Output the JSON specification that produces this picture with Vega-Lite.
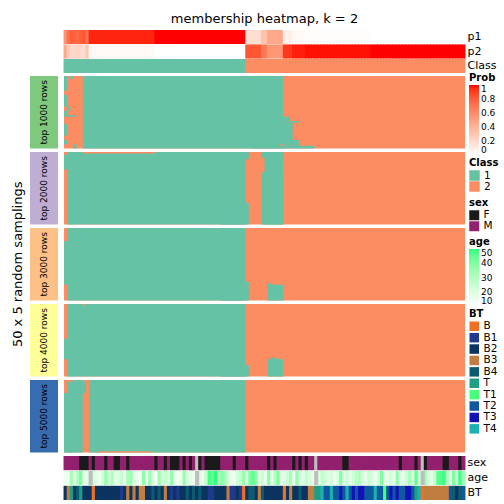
{
  "$schema": "https://vega.github.io/schema/vega-lite/v6.json",
  "autosize": {"type": "pad"},
  "padding": {"left": 0, "top": 12, "right": 0, "bottom": 0},
  "config": {
    "view": {"stroke": null},
    "font": "DejaVu Sans",
    "legend": {"labelColor": "black", "titleColor": "black", "padding": 0, "labelFontSize": 10.5, "titleFontSize": 10, "titleFontWeight": "bold", "titlePadding": 2, "labelOffset": 4}
  },
  "datasets": {
    "samples": [
      {"i":0,"p1":0.55,"p2":0.45,"cls":"1","sex":"M","age":15,"bt":"B2"},
      {"i":1,"p1":0.72,"p2":0.28,"cls":"1","sex":"M","age":14,"bt":"B3"},
      {"i":2,"p1":0.8,"p2":0.2,"cls":"1","sex":"M","age":33,"bt":"T"},
      {"i":3,"p1":0.78,"p2":0.22,"cls":"1","sex":"M","age":18,"bt":"B2"},
      {"i":4,"p1":0.76,"p2":0.24,"cls":"1","sex":"M","age":31,"bt":"B4"},
      {"i":5,"p1":0.8,"p2":0.2,"cls":"1","sex":"F","age":40,"bt":"T"},
      {"i":6,"p1":0.82,"p2":0.18,"cls":"1","sex":"F","age":16,"bt":"B2"},
      {"i":7,"p1":0.7,"p2":0.3,"cls":"1","sex":"F","age":18,"bt":"B2"},
      {"i":8,"p1":0.96,"p2":0.04,"cls":"1","sex":"M","age":null,"bt":"B2"},
      {"i":9,"p1":0.96,"p2":0.04,"cls":"1","sex":"F","age":22,"bt":"B"},
      {"i":10,"p1":0.96,"p2":0.04,"cls":"1","sex":"M","age":19,"bt":"B2"},
      {"i":11,"p1":0.96,"p2":0.04,"cls":"1","sex":"M","age":14,"bt":"B2"},
      {"i":12,"p1":0.96,"p2":0.04,"cls":"1","sex":"M","age":23,"bt":"B2"},
      {"i":13,"p1":0.96,"p2":0.04,"cls":"1","sex":"F","age":36,"bt":"B2"},
      {"i":14,"p1":0.96,"p2":0.04,"cls":"1","sex":"M","age":21,"bt":"B2"},
      {"i":15,"p1":0.96,"p2":0.04,"cls":"1","sex":"M","age":30,"bt":"B2"},
      {"i":16,"p1":0.96,"p2":0.04,"cls":"1","sex":"F","age":19,"bt":"B2"},
      {"i":17,"p1":0.96,"p2":0.04,"cls":"1","sex":"F","age":18,"bt":"B2"},
      {"i":18,"p1":0.96,"p2":0.04,"cls":"1","sex":"M","age":25,"bt":"B1"},
      {"i":19,"p1":0.96,"p2":0.04,"cls":"1","sex":"M","age":14,"bt":"B2"},
      {"i":20,"p1":0.96,"p2":0.04,"cls":"1","sex":"F","age":33,"bt":"B3"},
      {"i":21,"p1":0.96,"p2":0.04,"cls":"1","sex":"M","age":35,"bt":"B2"},
      {"i":22,"p1":0.96,"p2":0.04,"cls":"1","sex":"M","age":19,"bt":"B3"},
      {"i":23,"p1":0.96,"p2":0.04,"cls":"1","sex":"M","age":17,"bt":"B2"},
      {"i":24,"p1":0.96,"p2":0.04,"cls":"1","sex":"M","age":13,"bt":"B3"},
      {"i":25,"p1":0.96,"p2":0.04,"cls":"1","sex":"M","age":38,"bt":"B3"},
      {"i":26,"p1":0.96,"p2":0.04,"cls":"1","sex":"M","age":15,"bt":"B2"},
      {"i":27,"p1":0.96,"p2":0.04,"cls":"1","sex":"M","age":35,"bt":"B2"},
      {"i":28,"p1":0.96,"p2":0.04,"cls":"1","sex":"M","age":20,"bt":"B4"},
      {"i":29,"p1":1,"p2":0,"cls":"1","sex":"F","age":12,"bt":"B2"},
      {"i":30,"p1":1,"p2":0,"cls":"1","sex":"M","age":35,"bt":"B4"},
      {"i":31,"p1":1,"p2":0,"cls":"1","sex":"M","age":22,"bt":"B2"},
      {"i":32,"p1":1,"p2":0,"cls":"1","sex":"F","age":26,"bt":"B3"},
      {"i":33,"p1":1,"p2":0,"cls":"1","sex":"M","age":19,"bt":"B2"},
      {"i":34,"p1":1,"p2":0,"cls":"1","sex":"F","age":37,"bt":"B1"},
      {"i":35,"p1":1,"p2":0,"cls":"1","sex":"F","age":16,"bt":"B2"},
      {"i":36,"p1":1,"p2":0,"cls":"1","sex":"F","age":14,"bt":"B1"},
      {"i":37,"p1":1,"p2":0,"cls":"1","sex":"M","age":17,"bt":"B2"},
      {"i":38,"p1":1,"p2":0,"cls":"1","sex":"F","age":36,"bt":"B2"},
      {"i":39,"p1":1,"p2":0,"cls":"1","sex":"M","age":20,"bt":"B4"},
      {"i":40,"p1":1,"p2":0,"cls":"1","sex":"F","age":18,"bt":"B2"},
      {"i":41,"p1":1,"p2":0,"cls":"1","sex":"M","age":15,"bt":"B4"},
      {"i":42,"p1":1,"p2":0,"cls":"1","sex":"NA","age":null,"bt":"B2"},
      {"i":43,"p1":1,"p2":0,"cls":"1","sex":"F","age":20,"bt":"B4"},
      {"i":44,"p1":1,"p2":0,"cls":"1","sex":"M","age":14,"bt":"B2"},
      {"i":45,"p1":1,"p2":0,"cls":"1","sex":"F","age":27,"bt":"B2"},
      {"i":46,"p1":1,"p2":0,"cls":"1","sex":"F","age":48,"bt":"B1"},
      {"i":47,"p1":1,"p2":0,"cls":"1","sex":"F","age":45,"bt":"B1"},
      {"i":48,"p1":1,"p2":0,"cls":"1","sex":"F","age":50,"bt":"B2"},
      {"i":49,"p1":1,"p2":0,"cls":"1","sex":"F","age":30,"bt":"B2"},
      {"i":50,"p1":1,"p2":0,"cls":"1","sex":"M","age":38,"bt":"B2"},
      {"i":51,"p1":1,"p2":0,"cls":"1","sex":"M","age":33,"bt":"B2"},
      {"i":52,"p1":1,"p2":0,"cls":"1","sex":"M","age":22,"bt":"B3"},
      {"i":53,"p1":1,"p2":0,"cls":"1","sex":"M","age":17,"bt":"B1"},
      {"i":54,"p1":1,"p2":0,"cls":"1","sex":"F","age":14,"bt":"B1"},
      {"i":55,"p1":1,"p2":0,"cls":"1","sex":"M","age":23,"bt":"B2"},
      {"i":56,"p1":1,"p2":0,"cls":"1","sex":"M","age":26,"bt":"B1"},
      {"i":57,"p1":1,"p2":0,"cls":"1","sex":"M","age":36,"bt":"B"},
      {"i":58,"p1":0.18,"p2":0.82,"cls":"2","sex":"F","age":20,"bt":"B2"},
      {"i":59,"p1":0.18,"p2":0.82,"cls":"2","sex":"M","age":41,"bt":"B4"},
      {"i":60,"p1":0.18,"p2":0.82,"cls":"2","sex":"M","age":45,"bt":"B4"},
      {"i":61,"p1":0.18,"p2":0.82,"cls":"2","sex":"M","age":37,"bt":"B2"},
      {"i":62,"p1":0.18,"p2":0.82,"cls":"2","sex":"M","age":18,"bt":"B3"},
      {"i":63,"p1":0.32,"p2":0.68,"cls":"2","sex":"M","age":24,"bt":"B4"},
      {"i":64,"p1":0.32,"p2":0.68,"cls":"2","sex":"M","age":16,"bt":"B2"},
      {"i":65,"p1":0.46,"p2":0.54,"cls":"2","sex":"F","age":38,"bt":"B2"},
      {"i":66,"p1":0.46,"p2":0.54,"cls":"2","sex":"M","age":15,"bt":"B2"},
      {"i":67,"p1":0.46,"p2":0.54,"cls":"2","sex":"F","age":29,"bt":"B2"},
      {"i":68,"p1":0.46,"p2":0.54,"cls":"2","sex":"M","age":41,"bt":"B2"},
      {"i":69,"p1":0.46,"p2":0.54,"cls":"2","sex":"M","age":17,"bt":"B2"},
      {"i":70,"p1":0.08,"p2":0.92,"cls":"2","sex":"M","age":19,"bt":"B"},
      {"i":71,"p1":0.08,"p2":0.92,"cls":"2","sex":"M","age":24,"bt":"B2"},
      {"i":72,"p1":0.08,"p2":0.92,"cls":"2","sex":"M","age":33,"bt":"B3"},
      {"i":73,"p1":0.03,"p2":0.97,"cls":"2","sex":"F","age":14,"bt":"B2"},
      {"i":74,"p1":0.03,"p2":0.97,"cls":"2","sex":"M","age":37,"bt":"B2"},
      {"i":75,"p1":0.03,"p2":0.97,"cls":"2","sex":"F","age":22,"bt":"B4"},
      {"i":76,"p1":0.03,"p2":0.97,"cls":"2","sex":"M","age":18,"bt":"B2"},
      {"i":77,"p1":0.012,"p2":0.988,"cls":"2","sex":"F","age":26,"bt":"B2"},
      {"i":78,"p1":0.012,"p2":0.988,"cls":"2","sex":"M","age":20,"bt":"B3"},
      {"i":79,"p1":0.012,"p2":0.988,"cls":"2","sex":"M","age":17,"bt":"B3"},
      {"i":80,"p1":0.012,"p2":0.988,"cls":"2","sex":"NA","age":null,"bt":"T"},
      {"i":81,"p1":0.012,"p2":0.988,"cls":"2","sex":"M","age":19,"bt":"T"},
      {"i":82,"p1":0.012,"p2":0.988,"cls":"2","sex":"M","age":27,"bt":"T4"},
      {"i":83,"p1":0.012,"p2":0.988,"cls":"2","sex":"M","age":24,"bt":"T2"},
      {"i":84,"p1":0.012,"p2":0.988,"cls":"2","sex":"M","age":16,"bt":"T2"},
      {"i":85,"p1":0.012,"p2":0.988,"cls":"2","sex":"M","age":22,"bt":"T4"},
      {"i":86,"p1":0.012,"p2":0.988,"cls":"2","sex":"M","age":15,"bt":"T2"},
      {"i":87,"p1":0.012,"p2":0.988,"cls":"2","sex":"M","age":21,"bt":"T2"},
      {"i":88,"p1":0.012,"p2":0.988,"cls":"2","sex":"M","age":39,"bt":"T3"},
      {"i":89,"p1":0.012,"p2":0.988,"cls":"2","sex":"F","age":18,"bt":"T2"},
      {"i":90,"p1":0.012,"p2":0.988,"cls":"2","sex":"F","age":24,"bt":"T4"},
      {"i":91,"p1":0.012,"p2":0.988,"cls":"2","sex":"M","age":16,"bt":"T2"},
      {"i":92,"p1":0.012,"p2":0.988,"cls":"2","sex":"M","age":23,"bt":"T3"},
      {"i":93,"p1":0.012,"p2":0.988,"cls":"2","sex":"M","age":28,"bt":"T2"},
      {"i":94,"p1":0.012,"p2":0.988,"cls":"2","sex":"M","age":31,"bt":"T3"},
      {"i":95,"p1":0.012,"p2":0.988,"cls":"2","sex":"M","age":19,"bt":"T3"},
      {"i":96,"p1":0.012,"p2":0.988,"cls":"2","sex":"M","age":17,"bt":"T2"},
      {"i":97,"p1":0.012,"p2":0.988,"cls":"2","sex":"M","age":25,"bt":"T2"},
      {"i":98,"p1":0,"p2":1,"cls":"2","sex":"M","age":21,"bt":"T2"},
      {"i":99,"p1":0,"p2":1,"cls":"2","sex":"M","age":14,"bt":"T4"},
      {"i":100,"p1":0,"p2":1,"cls":"2","sex":"M","age":22,"bt":"T2"},
      {"i":101,"p1":0,"p2":1,"cls":"2","sex":"M","age":40,"bt":"T2"},
      {"i":102,"p1":0,"p2":1,"cls":"2","sex":"M","age":16,"bt":"T1"},
      {"i":103,"p1":0,"p2":1,"cls":"2","sex":"M","age":18,"bt":"T2"},
      {"i":104,"p1":0,"p2":1,"cls":"2","sex":"M","age":23,"bt":"T3"},
      {"i":105,"p1":0,"p2":1,"cls":"2","sex":"M","age":15,"bt":"T2"},
      {"i":106,"p1":0,"p2":1,"cls":"2","sex":"M","age":37,"bt":"T3"},
      {"i":107,"p1":0,"p2":1,"cls":"2","sex":"F","age":19,"bt":"T2"},
      {"i":108,"p1":0,"p2":1,"cls":"2","sex":"M","age":17,"bt":"T2"},
      {"i":109,"p1":0,"p2":1,"cls":"2","sex":"M","age":24,"bt":"T3"},
      {"i":110,"p1":0,"p2":1,"cls":"2","sex":"M","age":33,"bt":"T3"},
      {"i":111,"p1":0,"p2":1,"cls":"2","sex":"M","age":20,"bt":"T2"},
      {"i":112,"p1":0,"p2":1,"cls":"2","sex":"F","age":45,"bt":"T"},
      {"i":113,"p1":0,"p2":1,"cls":"2","sex":"M","age":23,"bt":"T4"},
      {"i":114,"p1":0,"p2":1,"cls":"2","sex":"NA","age":null,"bt":"B"},
      {"i":115,"p1":0,"p2":1,"cls":"2","sex":"F","age":33,"bt":"B3"},
      {"i":116,"p1":0,"p2":1,"cls":"2","sex":"M","age":21,"bt":"B3"},
      {"i":117,"p1":0,"p2":1,"cls":"2","sex":"M","age":18,"bt":"B3"},
      {"i":118,"p1":0,"p2":1,"cls":"2","sex":"M","age":26,"bt":"B3"},
      {"i":119,"p1":0,"p2":1,"cls":"2","sex":"M","age":46,"bt":"B3"},
      {"i":120,"p1":0,"p2":1,"cls":"2","sex":"M","age":47,"bt":"B3"},
      {"i":121,"p1":0,"p2":1,"cls":"2","sex":"F","age":49,"bt":"B3"},
      {"i":122,"p1":0,"p2":1,"cls":"2","sex":"F","age":30,"bt":"B3"},
      {"i":123,"p1":0,"p2":1,"cls":"2","sex":"M","age":18,"bt":"T2"},
      {"i":124,"p1":0,"p2":1,"cls":"2","sex":"M","age":41,"bt":"B4"},
      {"i":125,"p1":0,"p2":1,"cls":"2","sex":"M","age":22,"bt":"B2"},
      {"i":126,"p1":0,"p2":1,"cls":"2","sex":"F","age":49,"bt":"B4"},
      {"i":127,"p1":0,"p2":1,"cls":"2","sex":"M","age":35,"bt":"T2"}
    ],
    "seg": [
      {"p":"top 1000 rows","s0":0,"s1":128,"r0":0,"r1":50,"c":"2"},
      {"p":"top 1000 rows","s0":6,"s1":70,"r0":0,"r1":50,"c":"1"},
      {"p":"top 1000 rows","s0":60,"s1":72,"r0":28,"r1":31,"c":"1"},
      {"p":"top 1000 rows","s0":60,"s1":75,"r0":31,"r1":32,"c":"1"},
      {"p":"top 1000 rows","s0":60,"s1":73,"r0":32,"r1":44,"c":"1"},
      {"p":"top 1000 rows","s0":60,"s1":75,"r0":44,"r1":48,"c":"1"},
      {"p":"top 1000 rows","s0":60,"s1":80,"r0":48,"r1":50,"c":"1"},
      {"p":"top 1000 rows","s0":69,"s1":70,"r0":47,"r1":48,"c":"2"},
      {"p":"top 1000 rows","s0":0,"s1":1,"r0":0,"r1":10,"c":"1"},
      {"p":"top 1000 rows","s0":0,"s1":1,"r0":13,"r1":21,"c":"1"},
      {"p":"top 1000 rows","s0":0,"s1":1,"r0":24,"r1":28,"c":"1"},
      {"p":"top 1000 rows","s0":0,"s1":1,"r0":33,"r1":41,"c":"1"},
      {"p":"top 1000 rows","s0":0,"s1":1,"r0":44,"r1":47,"c":"1"},
      {"p":"top 1000 rows","s0":1,"s1":2,"r0":21,"r1":24,"c":"1"},
      {"p":"top 1000 rows","s0":1,"s1":4,"r0":27,"r1":28,"c":"1"},
      {"p":"top 1000 rows","s0":2,"s1":3,"r0":0,"r1":2,"c":"1"},
      {"p":"top 1000 rows","s0":3,"s1":4,"r0":47,"r1":50,"c":"1"},
      {"p":"top 2000 rows","s0":0,"s1":128,"r0":0,"r1":50,"c":"2"},
      {"p":"top 2000 rows","s0":1,"s1":58,"r0":0,"r1":50,"c":"1"},
      {"p":"top 2000 rows","s0":64,"s1":70,"r0":0,"r1":50,"c":"1"},
      {"p":"top 2000 rows","s0":63,"s1":70,"r0":0,"r1":4,"c":"1"},
      {"p":"top 2000 rows","s0":63,"s1":70,"r0":14,"r1":50,"c":"1"},
      {"p":"top 2000 rows","s0":0,"s1":5,"r0":2,"r1":12,"c":"1"},
      {"p":"top 2000 rows","s0":50,"s1":59,"r0":0,"r1":5,"c":"1"},
      {"p":"top 2000 rows","s0":50,"s1":59,"r0":35,"r1":50,"c":"1"},
      {"p":"top 2000 rows","s0":6,"s1":29,"r0":0,"r1":1,"c":"2"},
      {"p":"top 3000 rows","s0":0,"s1":128,"r0":0,"r1":50,"c":"2"},
      {"p":"top 3000 rows","s0":1,"s1":58,"r0":0,"r1":50,"c":"1"},
      {"p":"top 3000 rows","s0":0,"s1":5,"r0":9,"r1":39,"c":"1"},
      {"p":"top 3000 rows","s0":50,"s1":59,"r0":37,"r1":50,"c":"1"},
      {"p":"top 3000 rows","s0":65,"s1":70,"r0":39,"r1":50,"c":"1"},
      {"p":"top 3000 rows","s0":65,"s1":66,"r0":38,"r1":40,"c":"1"},
      {"p":"top 4000 rows","s0":0,"s1":128,"r0":0,"r1":50,"c":"2"},
      {"p":"top 4000 rows","s0":1,"s1":58,"r0":0,"r1":50,"c":"1"},
      {"p":"top 4000 rows","s0":6,"s1":7,"r0":0,"r1":1,"c":"2"},
      {"p":"top 4000 rows","s0":0,"s1":5,"r0":24,"r1":38,"c":"1"},
      {"p":"top 4000 rows","s0":50,"s1":59,"r0":42,"r1":50,"c":"1"},
      {"p":"top 4000 rows","s0":65,"s1":70,"r0":38,"r1":50,"c":"1"},
      {"p":"top 4000 rows","s0":66,"s1":68,"r0":37,"r1":39,"c":"1"},
      {"p":"top 5000 rows","s0":0,"s1":128,"r0":0,"r1":50,"c":"2"},
      {"p":"top 5000 rows","s0":1,"s1":6,"r0":0,"r1":50,"c":"1"},
      {"p":"top 5000 rows","s0":8,"s1":58,"r0":0,"r1":50,"c":"1"},
      {"p":"top 5000 rows","s0":3,"s1":7,"r0":1,"r1":9,"c":"1"},
      {"p":"top 5000 rows","s0":0,"s1":3,"r0":9,"r1":50,"c":"1"},
      {"p":"top 5000 rows","s0":11,"s1":28,"r0":49,"r1":50,"c":"2"},
      {"p":"top 5000 rows","s0":1,"s1":3,"r0":0,"r1":1,"c":"2"}
    ],
    "strips": [
      {"p":"top 1000 rows"},
      {"p":"top 2000 rows"},
      {"p":"top 3000 rows"},
      {"p":"top 4000 rows"},
      {"p":"top 5000 rows"}
    ]
  },
  "columns": 3,
  "align": "each",
  "bounds": "flush",
  "spacing": {"row": 3, "column": 6},
  "resolve": {"scale": {"color": "independent"}, "legend": {"color": "independent"}},
  "concat": [
    {"width": 24, "height": 1, "data": {"values": [{}]}, "mark": {"type": "rect", "opacity": 0}},
    {"width": 28, "height": 1, "data": {"values": [{}]}, "mark": {"type": "rect", "opacity": 0}},
    {
      "width": 401, "height": 43,
      "data": {"name": "samples"},
      "title": {"text": "membership heatmap, k = 2", "fontSize": 13, "fontWeight": "normal", "baseline": "alphabetic", "offset": -5.5, "anchor": "middle", "color": "black"},
      "layer": [
        {
          "transform": [{"fold": ["p1", "p2"], "as": ["k", "v"]}],
          "mark": {"type": "rect", "width": {"band": 1.3}},
          "encoding": {
            "x": {"field": "i", "type": "ordinal", "scale": {"paddingInner": 0, "paddingOuter": 0}, "axis": null},
            "y": {"field": "k", "type": "nominal", "scale": {"domain": ["p1", "p2", "Class"], "paddingInner": 0.03, "paddingOuter": 0}, "axis": {"orient": "right", "title": null, "ticks": false, "domain": false, "labelPadding": 2, "labelFontSize": 11, "labelColor": "black"}},
            "color": {"field": "v", "type": "quantitative", "scale": {"domain": [0, 1], "range": ["#FFFFFF", "#FF0000"], "interpolate": "lab"},
              "legend": {"title": "Prob", "orient": "none", "legendX": 405, "legendY": 43, "direction": "vertical", "gradientLength": 70, "gradientThickness": 10, "values": [0, 0.2, 0.4, 0.6, 0.8, 1], "format": "~g", "labelOverlap": false, "labelFontSize": 9, "titlePadding": 2, "gradientStrokeWidth": 0}}
          }
        },
        {
          "mark": {"type": "rect", "width": {"band": 1.3}},
          "encoding": {
            "x": {"field": "i", "type": "ordinal", "scale": {"paddingInner": 0, "paddingOuter": 0}, "axis": null},
            "y": {"datum": "Class", "type": "nominal", "scale": {"domain": ["p1", "p2", "Class"], "paddingInner": 0.03, "paddingOuter": 0}, "axis": {"orient": "right", "title": null, "ticks": false, "domain": false, "labelPadding": 2, "labelFontSize": 11, "labelColor": "black"}},
            "color": {"field": "cls", "type": "nominal", "scale": {"domain": ["1", "2"], "range": ["#66C2A5", "#FC8D62"]},
              "legend": {"title": "Class", "orient": "none", "legendX": 405, "legendY": 128, "symbolType": "square", "symbolSize": 110, "symbolStrokeWidth": 0, "rowPadding": 0}}
          }
        }
      ],
      "resolve": {"scale": {"color": "independent"}, "legend": {"color": "independent"}}
    },
    {"width": 24, "height": 1, "data": {"values": [{}]}, "mark": {"type": "rect", "opacity": 0}},
    {"width": 28, "height": 72.6, "data": {"name": "strips"}, "transform": [{"filter": {"field": "p", "equal": "top 1000 rows"}}],
      "layer": [
        {"mark": {"type": "rect"}, "encoding": {"color": {"field": "p", "type": "nominal", "scale": {"domain": ["top 1000 rows", "top 2000 rows", "top 3000 rows", "top 4000 rows", "top 5000 rows"], "range": ["#7FC97F", "#BEAED4", "#FDC086", "#FFFF99", "#386CB0"]}, "legend": null}}},
        {"mark": {"type": "text", "angle": 270, "fontSize": 9, "color": "black"}, "encoding": {"text": {"field": "p"}}}
      ]},
    {"width": 401, "height": 72.6, "data": {"name": "seg"}, "transform": [{"filter": {"field": "p", "equal": "top 1000 rows"}}],
      "mark": {"type": "rect"},
      "encoding": {
        "x": {"field": "s0", "type": "quantitative", "scale": {"domain": [0, 128], "nice": false, "zero": false}, "axis": null},
        "x2": {"field": "s1"},
        "y": {"field": "r0", "type": "quantitative", "scale": {"domain": [0, 50], "nice": false, "zero": false, "reverse": true}, "axis": null},
        "y2": {"field": "r1"},
        "color": {"field": "c", "type": "nominal", "scale": {"domain": ["1", "2"], "range": ["#66C2A5", "#FC8D62"]}, "legend": null}
      }},
    {"width": 24, "height": 1, "data": {"values": [{}]}, "mark": {"type": "rect", "opacity": 0}},
    {"width": 28, "height": 72.6, "data": {"name": "strips"}, "transform": [{"filter": {"field": "p", "equal": "top 2000 rows"}}],
      "layer": [
        {"mark": {"type": "rect"}, "encoding": {"color": {"field": "p", "type": "nominal", "scale": {"domain": ["top 1000 rows", "top 2000 rows", "top 3000 rows", "top 4000 rows", "top 5000 rows"], "range": ["#7FC97F", "#BEAED4", "#FDC086", "#FFFF99", "#386CB0"]}, "legend": null}}},
        {"mark": {"type": "text", "angle": 270, "fontSize": 9, "color": "black"}, "encoding": {"text": {"field": "p"}}}
      ]},
    {"width": 401, "height": 72.6, "data": {"name": "seg"}, "transform": [{"filter": {"field": "p", "equal": "top 2000 rows"}}],
      "mark": {"type": "rect"},
      "encoding": {
        "x": {"field": "s0", "type": "quantitative", "scale": {"domain": [0, 128], "nice": false, "zero": false}, "axis": null},
        "x2": {"field": "s1"},
        "y": {"field": "r0", "type": "quantitative", "scale": {"domain": [0, 50], "nice": false, "zero": false, "reverse": true}, "axis": null},
        "y2": {"field": "r1"},
        "color": {"field": "c", "type": "nominal", "scale": {"domain": ["1", "2"], "range": ["#66C2A5", "#FC8D62"]}, "legend": null}
      }},
    {"width": 24, "height": 72.6, "data": {"values": [{"t": "50 x 5 random samplings"}]},
      "mark": {"type": "text", "angle": 270, "fontSize": 13, "baseline": "top", "align": "center", "color": "black"},
      "encoding": {"text": {"field": "t"}}},
    {"width": 28, "height": 72.6, "data": {"name": "strips"}, "transform": [{"filter": {"field": "p", "equal": "top 3000 rows"}}],
      "layer": [
        {"mark": {"type": "rect"}, "encoding": {"color": {"field": "p", "type": "nominal", "scale": {"domain": ["top 1000 rows", "top 2000 rows", "top 3000 rows", "top 4000 rows", "top 5000 rows"], "range": ["#7FC97F", "#BEAED4", "#FDC086", "#FFFF99", "#386CB0"]}, "legend": null}}},
        {"mark": {"type": "text", "angle": 270, "fontSize": 9, "color": "black"}, "encoding": {"text": {"field": "p"}}}
      ]},
    {"width": 401, "height": 72.6, "data": {"name": "seg"}, "transform": [{"filter": {"field": "p", "equal": "top 3000 rows"}}],
      "mark": {"type": "rect"},
      "encoding": {
        "x": {"field": "s0", "type": "quantitative", "scale": {"domain": [0, 128], "nice": false, "zero": false}, "axis": null},
        "x2": {"field": "s1"},
        "y": {"field": "r0", "type": "quantitative", "scale": {"domain": [0, 50], "nice": false, "zero": false, "reverse": true}, "axis": null},
        "y2": {"field": "r1"},
        "color": {"field": "c", "type": "nominal", "scale": {"domain": ["1", "2"], "range": ["#66C2A5", "#FC8D62"]}, "legend": null}
      }},
    {"width": 24, "height": 1, "data": {"values": [{}]}, "mark": {"type": "rect", "opacity": 0}},
    {"width": 28, "height": 72.6, "data": {"name": "strips"}, "transform": [{"filter": {"field": "p", "equal": "top 4000 rows"}}],
      "layer": [
        {"mark": {"type": "rect"}, "encoding": {"color": {"field": "p", "type": "nominal", "scale": {"domain": ["top 1000 rows", "top 2000 rows", "top 3000 rows", "top 4000 rows", "top 5000 rows"], "range": ["#7FC97F", "#BEAED4", "#FDC086", "#FFFF99", "#386CB0"]}, "legend": null}}},
        {"mark": {"type": "text", "angle": 270, "fontSize": 9, "color": "black"}, "encoding": {"text": {"field": "p"}}}
      ]},
    {"width": 401, "height": 72.6, "data": {"name": "seg"}, "transform": [{"filter": {"field": "p", "equal": "top 4000 rows"}}],
      "mark": {"type": "rect"},
      "encoding": {
        "x": {"field": "s0", "type": "quantitative", "scale": {"domain": [0, 128], "nice": false, "zero": false}, "axis": null},
        "x2": {"field": "s1"},
        "y": {"field": "r0", "type": "quantitative", "scale": {"domain": [0, 50], "nice": false, "zero": false, "reverse": true}, "axis": null},
        "y2": {"field": "r1"},
        "color": {"field": "c", "type": "nominal", "scale": {"domain": ["1", "2"], "range": ["#66C2A5", "#FC8D62"]}, "legend": null}
      }},
    {"width": 24, "height": 1, "data": {"values": [{}]}, "mark": {"type": "rect", "opacity": 0}},
    {"width": 28, "height": 72.6, "data": {"name": "strips"}, "transform": [{"filter": {"field": "p", "equal": "top 5000 rows"}}],
      "layer": [
        {"mark": {"type": "rect"}, "encoding": {"color": {"field": "p", "type": "nominal", "scale": {"domain": ["top 1000 rows", "top 2000 rows", "top 3000 rows", "top 4000 rows", "top 5000 rows"], "range": ["#7FC97F", "#BEAED4", "#FDC086", "#FFFF99", "#386CB0"]}, "legend": null}}},
        {"mark": {"type": "text", "angle": 270, "fontSize": 9, "color": "black"}, "encoding": {"text": {"field": "p"}}}
      ]},
    {"width": 401, "height": 72.6, "data": {"name": "seg"}, "transform": [{"filter": {"field": "p", "equal": "top 5000 rows"}}],
      "mark": {"type": "rect"},
      "encoding": {
        "x": {"field": "s0", "type": "quantitative", "scale": {"domain": [0, 128], "nice": false, "zero": false}, "axis": null},
        "x2": {"field": "s1"},
        "y": {"field": "r0", "type": "quantitative", "scale": {"domain": [0, 50], "nice": false, "zero": false, "reverse": true}, "axis": null},
        "y2": {"field": "r1"},
        "color": {"field": "c", "type": "nominal", "scale": {"domain": ["1", "2"], "range": ["#66C2A5", "#FC8D62"]}, "legend": null}
      }},
    {"width": 24, "height": 1, "data": {"values": [{}]}, "mark": {"type": "rect", "opacity": 0}},
    {"width": 28, "height": 1, "data": {"values": [{}]}, "mark": {"type": "rect", "opacity": 0}},
    {
      "width": 401, "height": 44,
      "data": {"name": "samples"},
      "layer": [
        {
          "mark": {"type": "rect", "width": {"band": 1.3}},
          "encoding": {
            "x": {"field": "i", "type": "ordinal", "scale": {"paddingInner": 0, "paddingOuter": 0}, "axis": null},
            "y": {"datum": "sex", "type": "nominal", "scale": {"domain": ["sex", "age", "BT"], "paddingInner": 0.05, "paddingOuter": 0}, "axis": {"orient": "right", "title": null, "ticks": false, "domain": false, "labelPadding": 2, "labelFontSize": 11, "labelColor": "black"}},
            "color": {"field": "sex", "type": "nominal", "scale": {"domain": ["F", "M", "NA"], "range": ["#1A1A1A", "#93206E", "#BEBEBE"]},
              "legend": {"title": "sex", "values": ["F", "M"], "orient": "none", "legendX": 405, "legendY": -258, "symbolType": "square", "symbolSize": 100, "symbolStrokeWidth": 0, "rowPadding": 0}}
          }
        },
        {
          "transform": [{"filter": "datum.age != null"}],
          "mark": {"type": "rect", "width": {"band": 1.3}},
          "encoding": {
            "x": {"field": "i", "type": "ordinal", "scale": {"paddingInner": 0, "paddingOuter": 0}, "axis": null},
            "y": {"datum": "age", "type": "nominal", "scale": {"domain": ["sex", "age", "BT"], "paddingInner": 0.05, "paddingOuter": 0}, "axis": {"orient": "right", "title": null, "ticks": false, "domain": false, "labelPadding": 2, "labelFontSize": 11, "labelColor": "black"}},
            "color": {"field": "age", "type": "quantitative", "scale": {"domain": [10, 50], "range": ["#FFFFFF", "#2CFF80"], "interpolate": "lab", "clamp": true},
              "legend": {"title": "age", "orient": "none", "legendX": 405, "legendY": -219, "direction": "vertical", "gradientLength": 57, "gradientThickness": 10, "values": [10, 20, 30, 40, 50], "labelOverlap": false, "labelFontSize": 9, "titlePadding": 2, "gradientStrokeWidth": 0}}
          }
        },
        {
          "transform": [{"filter": "datum.age == null"}],
          "mark": {"type": "rect", "fill": "#BEBEBE", "width": {"band": 1.3}},
          "encoding": {
            "x": {"field": "i", "type": "ordinal", "scale": {"paddingInner": 0, "paddingOuter": 0}, "axis": null},
            "y": {"datum": "age", "type": "nominal", "scale": {"domain": ["sex", "age", "BT"], "paddingInner": 0.05, "paddingOuter": 0}, "axis": {"orient": "right", "title": null, "ticks": false, "domain": false, "labelPadding": 2, "labelFontSize": 11, "labelColor": "black"}}
          }
        },
        {
          "mark": {"type": "rect", "width": {"band": 1.3}},
          "encoding": {
            "x": {"field": "i", "type": "ordinal", "scale": {"paddingInner": 0, "paddingOuter": 0}, "axis": null},
            "y": {"datum": "BT", "type": "nominal", "scale": {"domain": ["sex", "age", "BT"], "paddingInner": 0.05, "paddingOuter": 0}, "axis": {"orient": "right", "title": null, "ticks": false, "domain": false, "labelPadding": 2, "labelFontSize": 11, "labelColor": "black"}},
            "color": {"field": "bt", "type": "nominal", "scale": {"domain": ["B", "B1", "B2", "B3", "B4", "T", "T1", "T2", "T3", "T4"], "range": ["#F07124", "#1F3A8C", "#0B3460", "#C17D40", "#0C5B70", "#1F9E86", "#48FF78", "#0E58A0", "#1212B8", "#1CB0B0"]},
              "legend": {"title": "BT", "orient": "none", "legendX": 405, "legendY": -147, "symbolType": "square", "symbolSize": 90, "symbolStrokeWidth": 0, "rowPadding": 0.4}}
          }
        }
      ],
      "resolve": {"scale": {"color": "independent"}, "legend": {"color": "independent"}}
    }
  ]
}
